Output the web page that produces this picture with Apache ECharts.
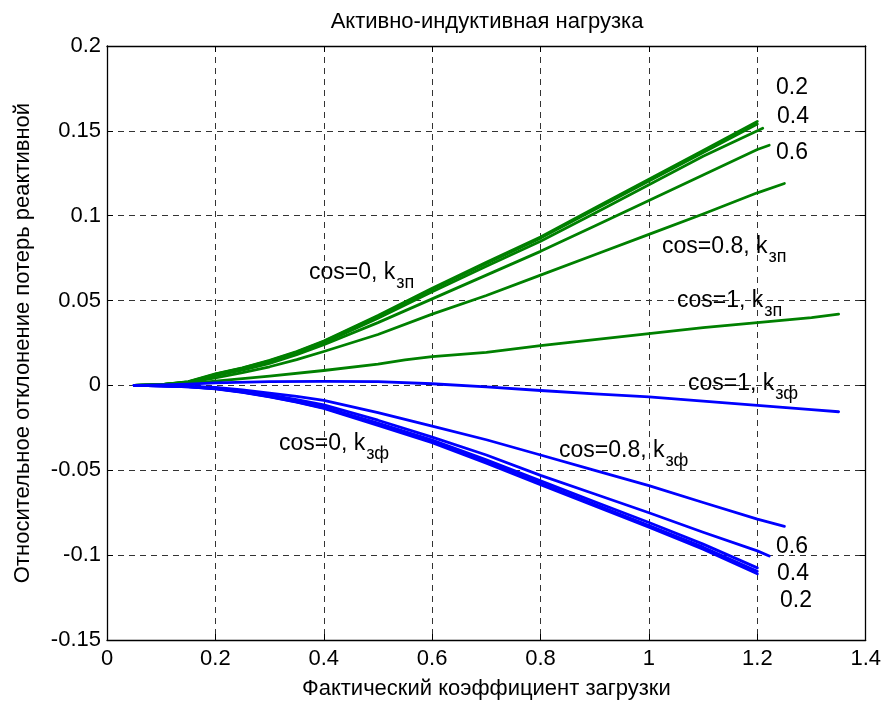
<!DOCTYPE html>
<html>
<head>
<meta charset="utf-8">
<script src="https://cdn.jsdelivr.net/npm/echarts@6/dist/echarts.min.js"></script>
<style>html,body{margin:0;padding:0;background:#fff}#c{width:884px;height:705px}</style>
</head>
<body>
<div id="c"></div>
<script>
// ---- data ----
const titleText = 'Активно-индуктивная нагрузка';
const xName = 'Фактический коэффициент загрузки';
const yName = 'Относительное отклонение потерь реактивной';
const xTicks = [0, 0.2, 0.4, 0.6, 0.8, 1, 1.2, 1.4];
const yTicks = [-0.15, -0.1, -0.05, 0, 0.05, 0.1, 0.15, 0.2];

const xBase = [0.05, 0.1, 0.15, 0.2, 0.25, 0.3, 0.35, 0.4, 0.5, 0.6, 0.7, 0.8, 0.9, 1.0, 1.1, 1.2];

// green: k_зп
const gCos0  = [0, 0.0005, 0.0022, 0.0068, 0.0104, 0.0148, 0.0200, 0.0262, 0.0412, 0.0572, 0.0725, 0.0875, 0.1045, 0.1215, 0.1385, 0.1555];
const gCos02 = [0, 0.0005, 0.0021, 0.0066, 0.0102, 0.0145, 0.0197, 0.0258, 0.0407, 0.0566, 0.0718, 0.0868, 0.1037, 0.1205, 0.1372, 0.1540];
const gCos04 = [0, 0.0005, 0.0020, 0.0063, 0.0098, 0.0140, 0.0191, 0.0250, 0.0396, 0.0552, 0.0702, 0.0850, 0.1015, 0.1182, 0.1350, 0.1515];
const gCos04X = [0.05, 0.1, 0.15, 0.2, 0.25, 0.3, 0.35, 0.4, 0.5, 0.6, 0.7, 0.8, 0.9, 1.0, 1.1, 1.21];
const gCos06 = [0, 0.0004, 0.0018, 0.0058, 0.0090, 0.0130, 0.0181, 0.0240, 0.0370, 0.0510, 0.0650, 0.0790, 0.0940, 0.1090, 0.1240, 0.1390, 0.1415];
const gCos06X = [0.05, 0.1, 0.15, 0.2, 0.25, 0.3, 0.35, 0.4, 0.5, 0.6, 0.7, 0.8, 0.9, 1.0, 1.1, 1.2, 1.222];
const gCos08 = [0, 0.0004, 0.0016, 0.0045, 0.0075, 0.0110, 0.0152, 0.0200, 0.0300, 0.0420, 0.0530, 0.0650, 0.0770, 0.0890, 0.1010, 0.1135, 0.1190];
const gCos08X = [0.05, 0.1, 0.15, 0.2, 0.25, 0.3, 0.35, 0.4, 0.5, 0.6, 0.7, 0.8, 0.9, 1.0, 1.1, 1.2, 1.25];
const gCos1  = [0, 0.0003, 0.0010, 0.0025, 0.0055, 0.0088, 0.0125, 0.0150, 0.0170, 0.0195, 0.0235, 0.0270, 0.0305, 0.0340, 0.0370, 0.0400, 0.0420];
const gCos1X = [0.05, 0.1, 0.15, 0.2, 0.3, 0.4, 0.5, 0.55, 0.6, 0.7, 0.8, 0.9, 1.0, 1.1, 1.2, 1.3, 1.35];

// blue: k_зф
const bCos0  = [0, -0.0003, -0.0008, -0.0020, -0.0041, -0.0068, -0.0099, -0.0135, -0.0235, -0.0338, -0.0458, -0.0585, -0.0710, -0.0835, -0.0965, -0.1110];
const bCos02 = [0, -0.0003, -0.0008, -0.0019, -0.0040, -0.0066, -0.0097, -0.0132, -0.0230, -0.0332, -0.0450, -0.0575, -0.0700, -0.0825, -0.0953, -0.1095];
const bCos04 = [0, -0.0003, -0.0007, -0.0018, -0.0038, -0.0063, -0.0093, -0.0127, -0.0222, -0.0322, -0.0438, -0.0562, -0.0685, -0.0808, -0.0935, -0.1075];
const bCos06 = [0, -0.0002, -0.0006, -0.0015, -0.0033, -0.0055, -0.0083, -0.0115, -0.0205, -0.0305, -0.0410, -0.0530, -0.0640, -0.0750, -0.0865, -0.0975, -0.1005];
const bCos06X = [0.05, 0.1, 0.15, 0.2, 0.25, 0.3, 0.35, 0.4, 0.5, 0.6, 0.7, 0.8, 0.9, 1.0, 1.1, 1.2, 1.222];
const bCos08 = [0, -0.0002, -0.0005, -0.0012, -0.0027, -0.0045, -0.0065, -0.0088, -0.0160, -0.0240, -0.0320, -0.0410, -0.0500, -0.0590, -0.0690, -0.0788, -0.0830];
const bCos08X = [0.05, 0.1, 0.15, 0.2, 0.25, 0.3, 0.35, 0.4, 0.5, 0.6, 0.7, 0.8, 0.9, 1.0, 1.1, 1.2, 1.25];
const bCos1  = [0, 0.0003, 0.0008, 0.0015, 0.0022, 0.0024, 0.0022, 0.0010, -0.0008, -0.0030, -0.0050, -0.0068, -0.0092, -0.0118, -0.0143, -0.0155];
const bCos1X = [0.05, 0.1, 0.15, 0.2, 0.3, 0.4, 0.5, 0.6, 0.7, 0.8, 0.9, 1.0, 1.1, 1.2, 1.3, 1.35];

// annotation texts: [main, subscript, left px, baseline px]
const notes = [
  ['cos=0, k', 'зп', 309, 279],
  ['cos=0.8, k', 'зп', 662, 253],
  ['cos=1, k', 'зп', 677, 307],
  ['cos=1, k', 'зф', 688, 390],
  ['cos=0.8, k', 'зф', 559, 457],
  ['cos=0, k', 'зф', 279, 450]
];
const numNotes = [
  ['0.2', 776, 94], ['0.4', 777, 123], ['0.6', 776, 159],
  ['0.6', 776, 553], ['0.4', 777, 580], ['0.2', 780, 607]
];

// ---- chart ----
const FONT = '"Liberation Sans", Arial, sans-serif';
const FS = 22, NFS = 23, SUBFS = 18;
const GREEN = '#008000', BLUE = '#0000ff';
const zip = (xs, ys) => ys.map((v, i) => [xs[i], v]);

function line(name, xs, ys, color) {
  return {
    name, type: 'line', data: zip(xs, ys), showSymbol: false, symbol: 'none',
    lineStyle: { color, width: 2.8, join: 'round', cap: 'round' }, smooth: false, z: 5, animation: false
  };
}

const series = [
  line('g0', xBase, gCos0, GREEN),
  line('g02', xBase, gCos02, GREEN),
  line('g04', gCos04X, gCos04, GREEN),
  line('g06', gCos06X, gCos06, GREEN),
  line('g08', gCos08X, gCos08, GREEN),
  line('g1', gCos1X, gCos1, GREEN),
  line('b0', xBase, bCos0, BLUE),
  line('b02', xBase, bCos02, BLUE),
  line('b04', xBase, bCos04, BLUE),
  line('b06', bCos06X, bCos06, BLUE),
  line('b08', bCos08X, bCos08, BLUE),
  line('b1', bCos1X, bCos1, BLUE)
];

const splitLine = { show: true, lineStyle: { color: '#333', width: 1, type: [6, 5] } };
const axisLine = { show: true, onZero: false, lineStyle: { color: '#000', width: 1.3 } };
const tick = { show: true, inside: true, length: 6, lineStyle: { color: '#000' } };

const chart = echarts.init(document.getElementById('c'), null, { renderer: 'canvas' });
const option = {
  animation: false,
  backgroundColor: '#fff',
  textStyle: { fontFamily: FONT },
  title: {
    text: titleText, left: 482, top: 6, textAlign: 'center',
    textStyle: { fontFamily: FONT, fontSize: FS, fontWeight: 'normal', color: '#000' }
  },
  grid: { left: 107, right: 18, top: 46, bottom: 64, containLabel: false },
  xAxis: [
    {
      type: 'value', min: xTicks[0], max: xTicks[xTicks.length - 1], interval: 0.2,
      name: xName, nameLocation: 'middle', nameGap: 38,
      nameTextStyle: { fontFamily: FONT, fontSize: FS, color: '#000' },
      axisLine, axisTick: tick, splitLine,
      axisLabel: { fontFamily: FONT, fontSize: FS, color: '#000', margin: 8,
        formatter: v => String(parseFloat(v.toFixed(2))) }
    },
    {
      type: 'value', position: 'top', min: xTicks[0], max: xTicks[xTicks.length - 1], interval: 0.2,
      axisLine, axisTick: tick, splitLine: { show: false }, axisLabel: { show: false }
    }
  ],
  yAxis: [
    {
      type: 'value', min: yTicks[0], max: yTicks[yTicks.length - 1], interval: 0.05,
      name: yName, nameLocation: 'middle', nameGap: 73, nameRotate: 90,
      nameTextStyle: { fontFamily: FONT, fontSize: FS, color: '#000' },
      axisLine, axisTick: tick, splitLine,
      axisLabel: { fontFamily: FONT, fontSize: FS, color: '#000', margin: 6,
        formatter: v => String(parseFloat(v.toFixed(2))) }
    },
    {
      type: 'value', position: 'right', min: yTicks[0], max: yTicks[yTicks.length - 1], interval: 0.05,
      axisLine, axisTick: tick, splitLine: { show: false }, axisLabel: { show: false }
    }
  ],
  series
};
chart.setOption(option);

// annotations (text with subscripts)
const cv = document.createElement('canvas').getContext('2d');
cv.font = NFS + 'px ' + FONT;
const elements = [];
const txt = (t, x, b, fs) => ({ type: 'text', x, y: b - 0.76 * fs, z: 10,
  style: { text: t, font: fs + 'px ' + FONT, fill: '#000', verticalAlign: 'top', align: 'left' } });
notes.forEach(([m, s, x, b]) => {
  const w = cv.measureText(m).width;
  elements.push(txt(m, x, b, NFS));
  elements.push(txt(s, x + w + 1, b + 9, SUBFS));
});
numNotes.forEach(([t, x, b]) => elements.push(txt(t, x, b, NFS)));
chart.setOption({ graphic: { elements } });
</script>
</body>
</html>
